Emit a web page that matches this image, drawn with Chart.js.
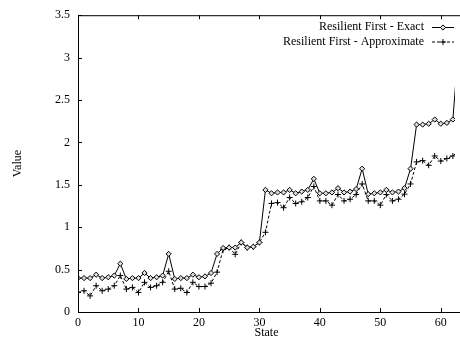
<!DOCTYPE html>
<html>
<head>
<meta charset="utf-8">
<script src="https://cdn.jsdelivr.net/npm/chart.js@4/dist/chart.umd.min.js"></script>
<style>
  body { margin: 0; background: #fff; overflow: hidden; }
</style>
</head>
<body>
<canvas id="chart" width="460" height="341"></canvas>
<script>
// data
const states = [];
for (let i = 0; i < 64; i++) states.push(i);

const exactValues = [
  0.40, 0.40, 0.40, 0.44, 0.40, 0.41, 0.43, 0.57,
  0.39, 0.40, 0.40, 0.46, 0.40, 0.41, 0.43, 0.685,
  0.39, 0.40, 0.40, 0.44, 0.41, 0.42, 0.46, 0.685,
  0.755, 0.76, 0.76, 0.82, 0.76, 0.77, 0.82, 1.44,
  1.40, 1.41, 1.41, 1.44, 1.40, 1.42, 1.44, 1.57,
  1.40, 1.40, 1.41, 1.46, 1.41, 1.42, 1.45, 1.69,
  1.39, 1.40, 1.41, 1.44, 1.41, 1.42, 1.46, 1.69,
  2.21, 2.21, 2.22, 2.27, 2.22, 2.23, 2.27, 3.2
];
const approxValues = [
  0.23, 0.25, 0.19, 0.31, 0.25, 0.27, 0.31, 0.43,
  0.27, 0.29, 0.23, 0.35, 0.29, 0.31, 0.35, 0.48,
  0.27, 0.28, 0.23, 0.35, 0.30, 0.30, 0.34, 0.47,
  0.735, 0.76, 0.68, 0.82, 0.76, 0.77, 0.82, 0.94,
  1.28, 1.29, 1.23, 1.35, 1.28, 1.30, 1.35, 1.48,
  1.31, 1.31, 1.26, 1.385, 1.31, 1.33, 1.385, 1.51,
  1.31, 1.31, 1.26, 1.385, 1.31, 1.33, 1.39, 1.51,
  1.77, 1.785, 1.73, 1.84, 1.78, 1.81, 1.84, 1.9
];
const seriesNames = ['Resilient First - Exact', 'Resilient First - Approximate'];
const xTicks = [0, 10, 20, 30, 40, 50, 60];
const yTicks = [0, 0.5, 1, 1.5, 2, 2.5, 3, 3.5];

const FONT = '"Liberation Serif", "Times New Roman", serif';

function toPoints(vals) {
  return vals.map((v, i) => ({ x: states[i], y: v }));
}

// gnuplot style frame, inward ticks and legend inside the plot
const framePlugin = {
  id: 'frame',
  afterDraw(chart) {
    const ctx = chart.ctx;
    const a = chart.chartArea;
    const xs = chart.scales.x, ys = chart.scales.y;
    ctx.save();
    ctx.strokeStyle = '#000';
    ctx.lineWidth = 1;
    ctx.strokeRect(a.left + 0.5, a.top + 0.5, a.right - a.left + 5, a.bottom - a.top);
    ctx.beginPath();
    xTicks.forEach(v => {
      const px = Math.round(xs.getPixelForValue(v)) + 0.5;
      ctx.moveTo(px, a.bottom); ctx.lineTo(px, a.bottom - 4);
      ctx.moveTo(px, a.top); ctx.lineTo(px, a.top + 4);
    });
    yTicks.forEach(v => {
      const py = Math.round(ys.getPixelForValue(v)) + 0.5;
      ctx.moveTo(a.left, py); ctx.lineTo(a.left + 4, py);
    });
    ctx.stroke();

    // legend
    ctx.font = '12px ' + FONT;
    ctx.fillStyle = '#000';
    ctx.textAlign = 'right';
    ctx.textBaseline = 'middle';
    chart.data.datasets.forEach((ds, i) => {
      const y = 27 + i * 14.5;
      ctx.fillText(ds.label, 424, y);
      ctx.beginPath();
      ctx.setLineDash(ds.borderDash || []);
      ctx.moveTo(432, y + 0.5); ctx.lineTo(454, y + 0.5);
      ctx.stroke();
      ctx.setLineDash([]);
      ctx.fillStyle = ds.pointBackgroundColor;
      ctx.strokeStyle = '#000';
      Chart.helpers.drawPoint(ctx, {
        pointStyle: ds.pointStyle, radius: ds.pointRadius,
        borderWidth: 1, rotation: 0
      }, 443, y + 0.5);
      ctx.fillStyle = '#000';
    });
    ctx.restore();
  }
};

new Chart(document.getElementById('chart'), {
  type: 'line',
  data: {
    datasets: [
      {
        label: seriesNames[0],
        data: toPoints(exactValues),
        borderColor: '#000',
        borderWidth: 1,
        pointStyle: 'rectRot',
        pointRadius: 2.6,
        pointBorderWidth: 1,
        pointBorderColor: '#000',
        pointBackgroundColor: '#ddd',
        tension: 0
      },
      {
        label: seriesNames[1],
        data: toPoints(approxValues),
        borderColor: '#000',
        borderWidth: 1,
        borderDash: [3, 2],
        pointStyle: 'cross',
        pointRadius: 3,
        pointBorderWidth: 1,
        pointBorderColor: '#000',
        pointBackgroundColor: '#000',
        tension: 0
      }
    ]
  },
  options: {
    responsive: false,
    animation: false,
    layout: { padding: { top: 12, right: 0, left: 0, bottom: 0 } },
    plugins: {
      legend: { display: false },
      tooltip: { enabled: false }
    },
    scales: {
      x: {
        type: 'linear',
        min: 0,
        max: 62.35,
        grid: { display: false, drawTicks: false },
        border: { display: false },
        afterBuildTicks: s => { s.ticks = xTicks.map(v => ({ value: v })); },
        afterFit: s => { s.height = 29; },
        ticks: {
          color: '#000',
          padding: 4,
          maxRotation: 0,
          font: { family: FONT, size: 12 },
          callback: v => String(v)
        },
        title: {
          display: true,
          text: 'State',
          color: '#000',
          padding: { top: 0, bottom: 1 },
          font: { family: FONT, size: 12 }
        }
      },
      y: {
        min: 0,
        max: 3.5,
        grid: { display: false, drawTicks: false },
        border: { display: false },
        afterBuildTicks: s => { s.ticks = yTicks.map(v => ({ value: v })); },
        afterFit: s => { s.width = 78; },
        ticks: {
          color: '#000',
          padding: 8,
          font: { family: FONT, size: 12 },
          callback: v => String(v)
        },
        title: {
          display: true,
          text: 'Value',
          color: '#000',
          padding: { top: 11, bottom: 0 },
          font: { family: FONT, size: 12 }
        }
      }
    }
  },
  plugins: [framePlugin]
});
</script>
</body>
</html>
